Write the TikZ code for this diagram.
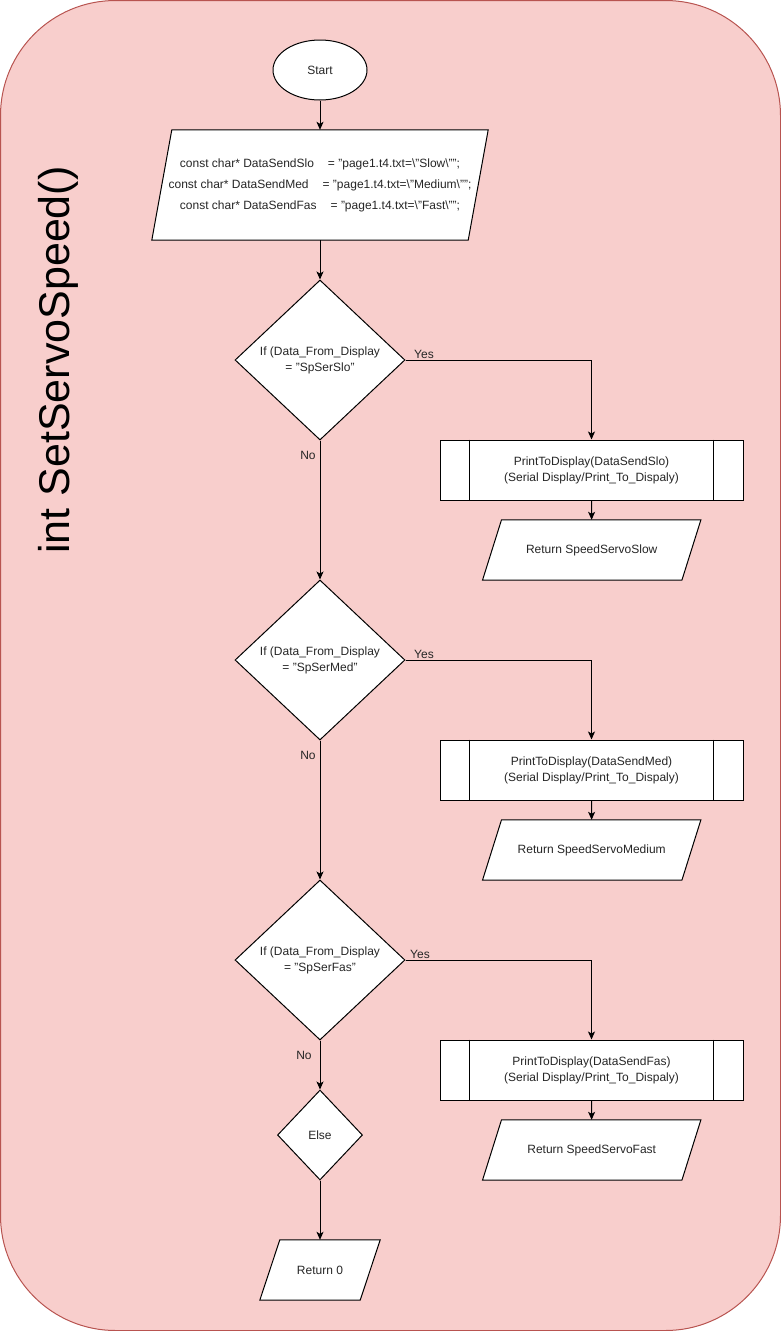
\documentclass[tikz,border=0pt]{standalone}
\usepackage{fontspec}
\setmainfont{Liberation Sans}
\usetikzlibrary{shapes.geometric,arrows.meta,calc}
\pgfdeclarelayer{back}
\pgfdeclarelayer{shapes}
\pgfsetlayers{back,shapes,main}

\definecolor{lanefill}{HTML}{F8CECC}
\definecolor{laneline}{HTML}{B85450}

\tikzset{
  base/.style={font=\fontsize{12}{16}\selectfont, align=center, inner sep=0pt, text=black!85},
  startbox/.style={base, ellipse, draw, fill=white, line width=1pt, minimum width=94pt, minimum height=60pt},
  decision/.style={base, diamond, draw, fill=white, line width=1pt, minimum width=170pt, minimum height=160pt},
  smalldecision/.style={base, diamond, draw, fill=white, line width=1pt, minimum width=85pt, minimum height=90pt},
  subproc/.style={base, rectangle, draw, fill=white, line width=1pt, minimum width=303pt, minimum height=60pt},
  iotext/.style={base, rectangle, draw=none},
  iolabel/.style={font=\fontsize{12}{14}\selectfont, text=black!85, inner sep=0pt},
  flow/.style={line width=1pt, -{Stealth[length=8pt,width=7pt,inset=2pt]}},
}

% parallelogram outline behind a named text node
\newcommand\ioshape[2]{%
  \begin{pgfonlayer}{shapes}
    \draw[line width=1pt, fill=white]
      (#1.south west) -- ($(#1.north west)+(#2,0)$) -- (#1.north east)
      -- ($(#1.south east)+(-#2,0)$) -- cycle;
  \end{pgfonlayer}}

% subroutine box with its two inner bars
\newcommand\subbars[1]{%
  \draw[line width=1pt] ([xshift=30pt]#1.north west) -- ([xshift=30pt]#1.south west);
  \draw[line width=1pt] ([xshift=-30pt]#1.north east) -- ([xshift=-30pt]#1.south east);}

\begin{document}
\begin{tikzpicture}[x=1pt,y=-1pt]
\useasboundingbox (0,0) rectangle (781,1331);

% swimlane-like container
\begin{pgfonlayer}{back}
  \draw[laneline, fill=lanefill, line width=1pt, rounded corners=115pt]
    (0.5,0.5) rectangle (780.5,1330.5);
\end{pgfonlayer}

\node[rotate=90, font=\fontsize{43}{50}\selectfont, text=black] (title) at (58,360) {int SetServoSpeed()};

% main column
\node[startbox] (start) at (320,70) {Start};

\node[iotext, minimum width=336pt, minimum height=110pt, font=\fontsize{12}{21}\selectfont] (decl) at (320,185)
  {const char* DataSendSlo\hspace{14pt}= "page1.t4.txt=\textbackslash"Slow\textbackslash"";\\
   const char* DataSendMed\hspace{14pt}= "page1.t4.txt=\textbackslash"Medium\textbackslash"";\\
   const char* DataSendFas\hspace{14pt}= "page1.t4.txt=\textbackslash"Fast\textbackslash"";};
\ioshape{decl}{20}

\node[decision] (d1) at (320,360) {If (Data\_From\_Display\\= "SpSerSlo"};
\node[decision] (d2) at (320,660) {If (Data\_From\_Display\\= "SpSerMed"};
\node[decision] (d3) at (320,960) {If (Data\_From\_Display\\= "SpSerFas"};
\node[smalldecision] (else) at (320,1135) {Else};

\node[iotext, minimum width=120pt, minimum height=60pt] (ret0) at (320,1270) {Return 0};
\ioshape{ret0}{20}

% right column
\node[subproc] (p1) at (591.5,470) {PrintToDisplay(DataSendSlo)\\(Serial Display/Print\_To\_Dispaly)};
\subbars{p1}
\node[iotext, minimum width=218pt, minimum height=60pt] (r1) at (591.7,550) {Return SpeedServoSlow};
\ioshape{r1}{19}

\node[subproc] (p2) at (591.5,770) {PrintToDisplay(DataSendMed)\\(Serial Display/Print\_To\_Dispaly)};
\subbars{p2}
\node[iotext, minimum width=218pt, minimum height=60pt] (r2) at (591.7,850) {Return SpeedServoMedium};
\ioshape{r2}{19}

\node[subproc] (p3) at (591.5,1070) {PrintToDisplay(DataSendFas)\\(Serial Display/Print\_To\_Dispaly)};
\subbars{p3}
\node[iotext, minimum width=218pt, minimum height=60pt] (r3) at (591.7,1150) {Return SpeedServoFast};
\ioshape{r3}{19}

% connectors
\draw[flow] (start) -- (decl);
\draw[flow] (decl) -- (d1);
\draw[flow] (d1.south) -- (d2.north);
\draw[flow] (d2.south) -- (d3.north);
\draw[flow] (d3.south) -- (else.north);
\draw[flow] (else.south) -- (ret0.north);

\draw[flow] (d1.east) -| (p1.north);
\draw[flow] (d2.east) -| (p2.north);
\draw[flow] (d3.east) -| (p3.north);
\draw[flow] (p1) -- (r1);
\draw[flow] (p2) -- (r2);
\draw[flow] (p3) -- (r3);

% branch labels
\node[iolabel] (y1) at (424,354) {Yes};
\node[iolabel] (y2) at (424,654) {Yes};
\node[iolabel] (y3) at (420,954) {Yes};
\node[iolabel] (n1) at (308,455) {No};
\node[iolabel] (n2) at (308,755) {No};
\node[iolabel] (n3) at (304,1055) {No};
\end{tikzpicture}
\end{document}
